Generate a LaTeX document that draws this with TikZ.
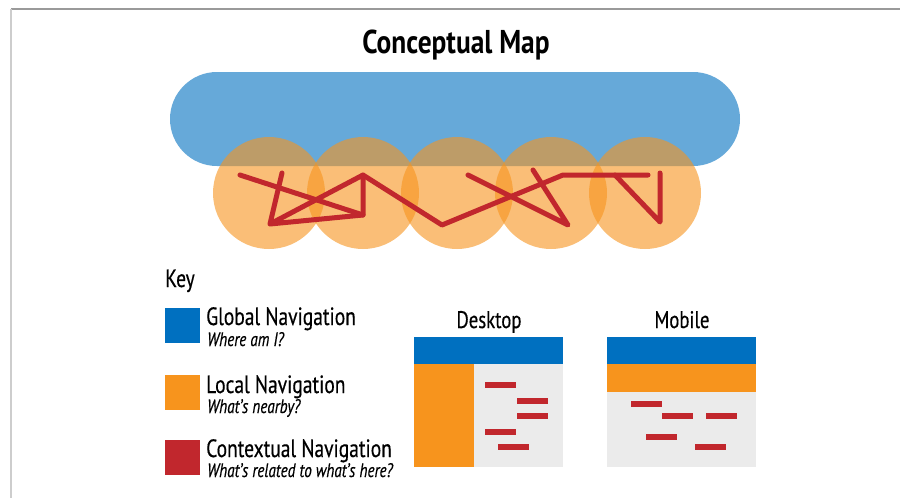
\documentclass[tikz,border=0pt]{standalone}
\usepackage{fontspec}
\setmainfont[FakeStretch=0.78,FakeBold=0.4]{PT Sans}
\newfontfamily\titlefont[FakeStretch=0.83]{PT Sans Bold}
\definecolor{kblue}{HTML}{0070C0}
\definecolor{korange}{HTML}{F7941D}
\definecolor{kred}{HTML}{C1272D}
\definecolor{kgray}{HTML}{EBEBEB}
\definecolor{kframe}{HTML}{9A9A9A}
\tikzset{
  ctx/.style={draw=kred,line width=5pt,line join=round,line cap=round},
  bubble/.style={fill=korange,fill opacity=0.6},
  dashbar/.style={fill=kred},
  keyhead/.style={anchor=base west,inner sep=0pt,font=\fontsize{25}{28}\selectfont},
  keysub/.style={anchor=base west,inner sep=0pt,font=\fontsize{19.5}{22}\selectfont\itshape},
  paneltitle/.style={anchor=base,inner sep=0pt,font=\fontsize{24}{28}\selectfont},
}
\begin{document}
\begin{tikzpicture}[x=1pt,y=-1pt]
\useasboundingbox (0,0) rectangle (900,498);
\fill[white] (0,0) rectangle (900,498);
% frame
\draw[kframe,line width=2pt] (11,9) -- (900,9);
\draw[kframe!50,line width=2pt] (11,9) -- (11,498);
% title
\node[anchor=base,inner sep=0pt,font=\fontsize{33}{36}\titlefont] (title) at (456,53) {Conceptual Map};
% global navigation pill
\fill[kblue,fill opacity=0.6,rounded corners=47pt] (170,72) rectangle (740,166);
% local navigation circles
\foreach \i/\cx in {1/269,2/363,3/457,4/551,5/645}{
  \fill[bubble] (\cx,193) circle[radius=56];
}
% contextual navigation
\coordinate (a1) at (240,175);
\coordinate (a2) at (363,215);
\coordinate (b1) at (282,173);
\coordinate (b2) at (270,224);
\coordinate (c1) at (363,175);
\coordinate (v1) at (442,225);
\coordinate (k1) at (563,175);
\coordinate (h2) at (648,175);
\coordinate (d1) at (468,175);
\coordinate (d2) at (568,225);
\coordinate (e1) at (533,170);
\coordinate (f1) at (615,175);
\coordinate (f2) at (660,222);
\coordinate (g1) at (660,173);
\draw[ctx] (a1) -- (a2);
\draw[ctx] (b1) -- (b2) -- (a2) -- (c1) -- (b2);
\draw[ctx] (c1) -- (v1) -- (k1) -- (h2);
\draw[ctx] (d1) -- (d2) -- (e1);
\draw[ctx] (f1) -- (f2) -- (g1);
% key
\node[anchor=base west,inner sep=0pt,font=\fontsize{25}{28}\selectfont] (key) at (165,287) {Key};
\fill[kblue] (165,308) rectangle (200,343);
\fill[korange] (165,375) rectangle (200,410);
\fill[kred] (165,440) rectangle (200,475);
\node[keyhead] (gn) at (206,325) {Global Navigation};
\node[keysub] (gs) at (207,346) {Where am I?};
\node[keyhead] (ln) at (206,393) {Local Navigation};
\node[keysub] (ls) at (207,413) {What’s nearby?};
\node[keyhead] (cn) at (206,457) {Contextual Navigation};
\node[keysub] (cs) at (207,477) {What’s related to what’s here?};
% desktop
\node[paneltitle] (dt) at (489,328) {Desktop};
\fill[kgray] (414,364) rectangle (563,467);
\fill[kblue] (414,337) rectangle (563,364);
\fill[korange] (414,364) rectangle (474,467);
\foreach \x/\y in {485/385,517/401,517/416,485/432,498/447}{
  \fill[dashbar] (\x,\y-3) rectangle (\x+31,\y+3);
}
% mobile
\node[paneltitle] (mb) at (682,328) {Mobile};
\fill[kgray] (607,392) rectangle (756,467);
\fill[kblue] (607,337) rectangle (756,364);
\fill[korange] (607,364) rectangle (756,392);
\foreach \x/\y in {631/404,662/416,706/416,646/437,695/447}{
  \fill[dashbar] (\x,\y-3) rectangle (\x+31,\y+3);
}
\end{tikzpicture}
\end{document}
